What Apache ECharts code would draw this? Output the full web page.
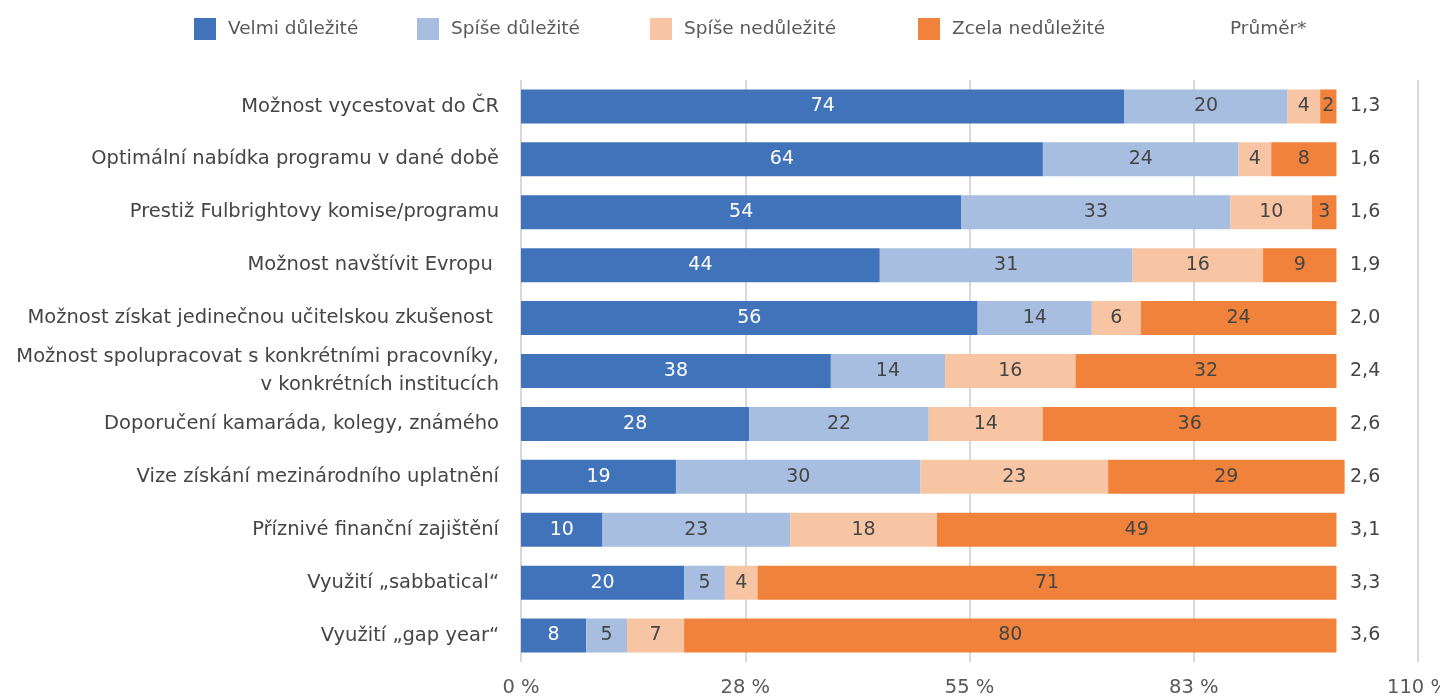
<!DOCTYPE html>
<html>
<head>
<meta charset="utf-8">
<script src="https://cdn.jsdelivr.net/npm/echarts@6/dist/echarts.min.js"></script>
<style>
  html, body { margin: 0; padding: 0; background: #fff; }
  #chart { width: 1440px; height: 696px; }
</style>
</head>
<body>
<div id="chart"></div>
<script>
var categories = [
  'Možnost vycestovat do ČR',
  'Optimální nabídka programu v dané době',
  'Prestiž Fulbrightovy komise/programu',
  'Možnost navštívit Evropu ',
  'Možnost získat jedinečnou učitelskou zkušenost ',
  'Možnost spolupracovat s konkrétními pracovníky,\nv konkrétních institucích',
  'Doporučení kamaráda, kolegy, známého',
  'Vize získání mezinárodního uplatnění',
  'Příznivé finanční zajištění',
  'Využití „sabbatical“',
  'Využití „gap year“'
];
var velmi = [74, 64, 54, 44, 56, 38, 28, 19, 10, 20, 8];
var spiseDul = [20, 24, 33, 31, 14, 14, 22, 30, 23, 5, 5];
var spiseNedul = [4, 4, 10, 16, 6, 16, 14, 23, 18, 4, 7];
var zcela = [2, 8, 3, 9, 24, 32, 36, 29, 49, 71, 80];
var prumer = ['1,3', '1,6', '1,6', '1,9', '2,0', '2,4', '2,6', '2,6', '3,1', '3,3', '3,6'];
var seriesNames = ['Velmi důležité', 'Spíše důležité', 'Spíše nedůležité', 'Zcela nedůležité', 'Průměr*'];

var font = 'DejaVu Sans';
var textColor = '#454545';
var legendLeft = [194, 417, 650, 918, 1196];

function barSeries(name, data, color, labelColor) {
  return {
    name: name,
    type: 'bar',
    stack: 'total',
    barWidth: 34,
    data: data,
    itemStyle: { color: color },
    label: {
      show: true,
      position: 'inside',
      color: labelColor,
      fontFamily: font,
      fontSize: 19
    }
  };
}

// one legend per item, so each sits where the original put it
var legends = seriesNames.map(function (n, i) {
  return {
    top: 18,
    left: legendLeft[i],
    padding: 0,
    itemWidth: 22,
    itemHeight: 22,
    icon: 'rect',
    textStyle: { fontFamily: font, fontSize: 18.5, color: '#595959', padding: [0, 0, 0, 7] },
    data: [n]
  };
});

var chart = echarts.init(document.getElementById('chart'));
chart.setOption({
  animation: false,
  backgroundColor: '#fff',
  legend: legends,
  grid: { left: 521, right: 22, top: 80, bottom: 34, outerBoundsMode: 'none' },
  xAxis: {
    type: 'value',
    min: 0,
    max: 110,
    interval: 27.5,
    axisLine: { show: false },
    axisTick: { show: false },
    splitLine: { show: true, lineStyle: { color: '#d9d9d9', width: 2 } },
    axisLabel: {
      fontFamily: font,
      fontSize: 19.5,
      color: '#595959',
      margin: 16,
      formatter: function (v) { return Math.round(v) + ' %'; }
    }
  },
  yAxis: [{
    type: 'category',
    inverse: true,
    data: categories,
    axisLine: { show: false },
    axisTick: { show: false },
    axisLabel: {
      fontFamily: font,
      fontSize: 19.5,
      color: textColor,
      margin: 22,
      lineHeight: 28,
      align: 'right'
    }
  }, {
    type: 'category',
    inverse: true,
    position: 'right',
    offset: -82,
    data: prumer,
    axisLine: { show: false },
    axisTick: { show: false },
    axisLabel: {
      fontFamily: font,
      fontSize: 19,
      color: textColor,
      margin: 14,
      align: 'left'
    }
  }],
  series: [
    barSeries(seriesNames[0], velmi, '#4173BA', '#ffffff'),
    barSeries(seriesNames[1], spiseDul, '#A7BEE0', textColor),
    barSeries(seriesNames[2], spiseNedul, '#F7C5A3', textColor),
    barSeries(seriesNames[3], zcela, '#F1823B', textColor),
    {
      name: seriesNames[4],
      type: 'bar',
      yAxisIndex: 1,
      data: [],
      itemStyle: { color: 'rgba(0,0,0,0)' }
    }
  ]
});
</script>
</body>
</html>
